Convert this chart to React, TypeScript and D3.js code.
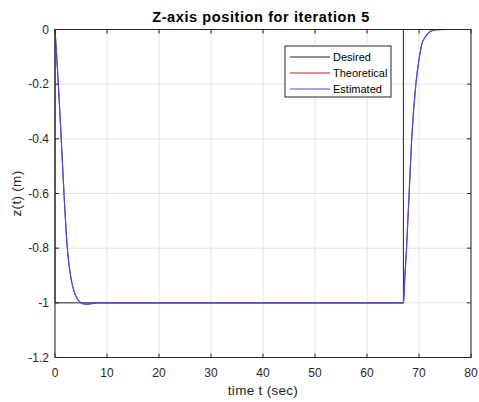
import React from "react";
import * as d3 from "d3";

const xTicks = [0, 10, 20, 30, 40, 50, 60, 70, 80];
const yTicks = [0, -0.2, -0.4, -0.6, -0.8, -1, -1.2];
const yTickLabels = ["0", "-0.2", "-0.4", "-0.6", "-0.8", "-1", "-1.2"];

const desiredT = [0, 0, 67, 67, 75];
const desiredZ = [0, -1, -1, 0, 0];

const estT = [0, 0.3, 0.64, 1.2, 1.73, 2.37, 2.9, 3.4, 4.0, 4.8, 5.5, 6.1, 7, 8, 67, 67.3, 67.6, 68.1, 68.6, 69.4, 70.0, 70.5, 71.3, 72.4, 73.5, 75];
const estZ = [0, -0.09, -0.2, -0.4, -0.6, -0.8, -0.89, -0.94, -0.975, -0.997, -1.004, -1.005, -1.003, -1.0, -1.0, -0.9, -0.8, -0.6, -0.4, -0.2, -0.11, -0.057, -0.025, -0.005, -0.001, 0];
const theoT = estT;
const theoZ = estZ;

const legendNames = ["Desired", "Theoretical", "Estimated"];
const colors = ["#262626", "#d01818", "#4a4aee"];

export default function App() {
  const W = 479, H = 402;
  const left = 55, right = 471, top = 29.5, bottom = 357.5;
  const x = d3.scaleLinear().domain([0, 80]).range([left, right]);
  const y = d3.scaleLinear().domain([-1.2, 0]).range([bottom, top]);
  const font = "'Liberation Sans', Arial, Helvetica, sans-serif";
  const axisColor = "#262626";

  const lineLin = d3.line<[number, number]>().x(d => x(d[0])).y(d => y(d[1]));
  const lineSmooth = d3.line<[number, number]>().x(d => x(d[0])).y(d => y(d[1])).curve(d3.curveMonotoneX);

  const desired = desiredT.map((t, i) => [t, desiredZ[i]] as [number, number]);
  const theo = theoT.map((t, i) => [t, theoZ[i]] as [number, number]);
  const est = estT.map((t, i) => [t, estZ[i]] as [number, number]);

  const lg = { x: 285, y: 46, w: 106, h: 51 };

  return (
    <svg width={W} height={H} style={{ position: "absolute", left: 0, top: 0, background: "#fff" }}>
      <rect x={0} y={0} width={W} height={H} fill="#fff" />
      {/* grid */}
      {xTicks.map(t => (
        <line key={"gx" + t} x1={x(t)} x2={x(t)} y1={top} y2={bottom} stroke="#e3e3e3" strokeWidth={1} />
      ))}
      {yTicks.map(t => (
        <line key={"gy" + t} x1={left} x2={right} y1={y(t)} y2={y(t)} stroke="#e3e3e3" strokeWidth={1} />
      ))}
      {/* data */}
      <path d={lineLin(desired) || ""} fill="none" stroke={colors[0]} strokeWidth={1} />
      <path d={lineSmooth(theo) || ""} fill="none" stroke={colors[1]} strokeWidth={1} />
      <path d={lineSmooth(est) || ""} fill="none" stroke={colors[2]} strokeWidth={1.2} />
      {/* box */}
      <rect x={left} y={top} width={right - left} height={bottom - top} fill="none" stroke={axisColor} strokeWidth={1} />
      {/* ticks */}
      {xTicks.map(t => (
        <g key={"tx" + t}>
          <line x1={x(t)} x2={x(t)} y1={bottom} y2={bottom - 4} stroke={axisColor} />
          <line x1={x(t)} x2={x(t)} y1={top} y2={top + 4} stroke={axisColor} />
          <text x={x(t)} y={377} textAnchor="middle" fontFamily={font} fontSize={12} fill={axisColor}>{t}</text>
        </g>
      ))}
      {yTicks.map((t, i) => (
        <g key={"ty" + t}>
          <line x1={left} x2={left + 4} y1={y(t)} y2={y(t)} stroke={axisColor} />
          <line x1={right} x2={right - 4} y1={y(t)} y2={y(t)} stroke={axisColor} />
          <text x={49} y={y(t) + 4} textAnchor="end" fontFamily={font} fontSize={12} fill={axisColor}>{yTickLabels[i]}</text>
        </g>
      ))}
      {/* labels */}
      <text x={261} y={22} textAnchor="middle" fontFamily={font} fontSize={14.5} letterSpacing={0.6} fontWeight="bold" fill="#000">Z-axis position for iteration 5</text>
      <text x={(left + right) / 2} y={395} textAnchor="middle" fontFamily={font} fontSize={13.5} letterSpacing={0.3} fill={axisColor}>time t (sec)</text>
      <text transform={`translate(21,${(top + bottom) / 2}) rotate(-90)`} textAnchor="middle" fontFamily={font} fontSize={13.5} letterSpacing={0.3} fill={axisColor}>z(t) (m)</text>
      {/* legend */}
      <rect x={lg.x} y={lg.y} width={lg.w} height={lg.h} fill="#fff" stroke={axisColor} strokeWidth={1} />
      {legendNames.map((n, i) => (
        <g key={n}>
          <line x1={lg.x + 5} x2={lg.x + 45} y1={lg.y + 11 + i * 16} y2={lg.y + 11 + i * 16} stroke={colors[i]} strokeWidth={1} />
          <text x={lg.x + 48} y={lg.y + 15 + i * 16} fontFamily={font} fontSize={11} fill="#000">{n}</text>
        </g>
      ))}
    </svg>
  );
}
